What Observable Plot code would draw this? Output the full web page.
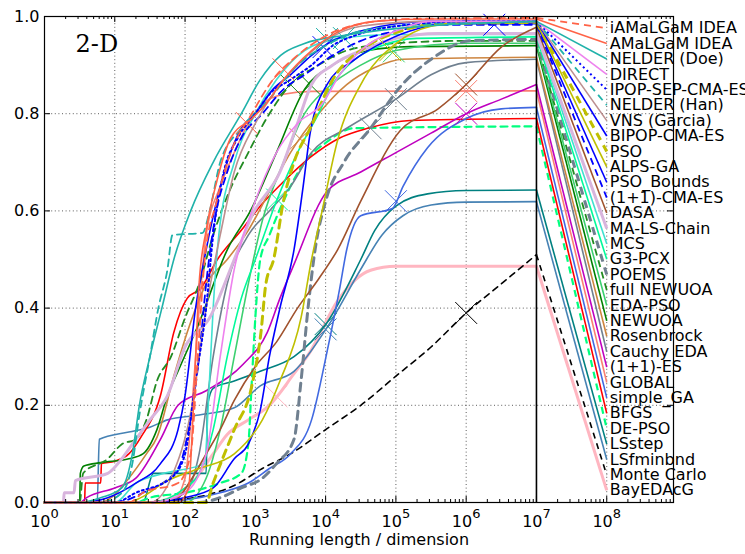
<!DOCTYPE html>
<html><head><meta charset="utf-8">
<script src="https://cdn.jsdelivr.net/npm/d3@7"></script>
<script src="https://cdn.jsdelivr.net/npm/@observablehq/plot@0.6"></script>
<style>body{margin:0;background:#fff;overflow:hidden}#chart{position:absolute;left:0;top:0}</style>
</head><body><div id="chart"></div>
<script>
// Algorithm names, in legend order (sorted by final proportion)
const names = ["iAMaLGaM IDEA","AMaLGaM IDEA","NELDER (Doe)","DIRECT","IPOP-SEP-CMA-ES","NELDER (Han)","VNS (Garcia)","BIPOP-CMA-ES","PSO","ALPS-GA","PSO_Bounds","(1+1)-CMA-ES","DASA","MA-LS-Chain","MCS","G3-PCX","POEMS","full NEWUOA","EDA-PSO","NEWUOA","Rosenbrock","Cauchy EDA","(1+1)-ES","GLOBAL","simple_GA","BFGS","DE-PSO","LSstep","LSfminbnd","Monte Carlo","BayEDAcG"];

// ECDF points per algorithm: [log10(running length / dimension), proportion]
const ecdfPoints = [
 [[0,0],[1.2,0],[1.4,0.02],[1.9,0.04],[2.08,0.1],[2.18,0.3],[2.28,0.5],[2.45,0.62],[2.65,0.72],[2.95,0.8],[3.25,0.87],[3.6,0.92],[4.0,0.96],[4.5,0.985],[5.2,0.995],[7,0.997]],
 [[0,0],[1.9,0],[2.05,0.03],[2.12,0.2],[2.2,0.45],[2.3,0.56],[2.45,0.66],[2.65,0.75],[2.95,0.79],[3.15,0.82],[3.4,0.87],[3.8,0.93],[4.2,0.97],[4.7,0.99],[5.5,0.995],[7,0.995]],
 [[0,0],[0.5,0],[0.8,0.01],[1.1,0.03],[1.25,0.1],[1.35,0.2],[1.5,0.3],[1.67,0.4],[1.84,0.5],[2.08,0.6],[2.4,0.7],[2.8,0.8],[3.07,0.87],[3.36,0.92],[3.69,0.944],[4.3,0.962],[5,0.975],[6,0.985],[7,0.99]],
 [[0,0],[1.5,0],[2.0,0.02],[2.3,0.1],[2.5,0.3],[2.7,0.48],[2.95,0.6],[3.3,0.72],[3.6,0.78],[3.95,0.82],[4.2,0.88],[4.5,0.93],[5.0,0.97],[5.5,0.99],[7,0.99]],
 [[0,0],[1.0,0],[1.3,0.02],[1.8,0.05],[2.0,0.1],[2.15,0.25],[2.3,0.4],[2.4,0.55],[2.55,0.68],[2.75,0.75],[3.0,0.8],[3.2,0.84],[3.5,0.87],[3.8,0.9],[4.1,0.94],[4.4,0.96],[5,0.98],[6,0.99],[7,0.99]],
 [[0,0],[0.8,0],[1.1,0.02],[1.25,0.08],[1.35,0.18],[1.5,0.3],[1.62,0.4],[1.75,0.48],[1.82,0.55],[2.25,0.555],[2.35,0.6],[2.5,0.7],[2.8,0.77],[3.2,0.83],[3.6,0.9],[4.0,0.94],[4.5,0.97],[5.5,0.985],[7,0.99]],
 [[0,0],[1.5,0],[1.8,0.05],[2.1,0.2],[2.3,0.4],[2.5,0.55],[2.7,0.68],[3.0,0.78],[3.3,0.85],[3.6,0.9],[4.0,0.95],[4.5,0.98],[5.5,0.99],[7,0.99]],
 [[0,0],[0.5,0],[0.9,0.01],[1.3,0.04],[1.65,0.08],[1.9,0.15],[2.0,0.22],[2.15,0.4],[2.3,0.52],[2.45,0.62],[2.6,0.7],[2.8,0.77],[3.0,0.8],[3.25,0.85],[3.5,0.88],[3.8,0.92],[4.1,0.95],[4.5,0.97],[5.0,0.985],[5.5,0.99],[7,0.99]],
 [[0,0],[2.3,0],[2.4,0.04],[2.7,0.15],[2.95,0.24],[3.08,0.35],[3.15,0.45],[3.26,0.5],[3.4,0.62],[3.55,0.7],[3.78,0.77],[4.1,0.87],[4.6,0.94],[5.07,0.97],[5.6,0.985],[7,0.988]],
 [[0,0],[1.2,0],[1.37,0.01],[1.75,0.045],[2.2,0.07],[2.7,0.1],[3.1,0.17],[3.35,0.25],[3.65,0.38],[3.8,0.5],[3.95,0.6],[4.17,0.745],[4.5,0.86],[5.0,0.944],[5.5,0.98],[6,0.988],[7,0.988]],
 [[0,0],[1.5,0],[2.0,0.01],[2.4,0.03],[2.7,0.09],[2.9,0.12],[3.07,0.19],[3.2,0.3],[3.35,0.4],[3.55,0.52],[3.68,0.65],[3.78,0.76],[4.02,0.86],[4.4,0.91],[4.73,0.94],[5.2,0.97],[5.8,0.985],[7,0.985]],
 [[0,0],[1.0,0],[1.4,0.02],[1.9,0.07],[2.05,0.15],[2.2,0.3],[2.3,0.45],[2.42,0.58],[2.6,0.68],[2.8,0.75],[3.1,0.8],[3.4,0.85],[3.7,0.88],[4.1,0.92],[4.5,0.95],[5.0,0.97],[5.6,0.983],[7,0.983]],
 [[0,0],[1.8,0],[2.1,0.05],[2.3,0.1],[2.5,0.15],[2.7,0.21],[3.0,0.28],[3.3,0.33],[3.6,0.4],[3.9,0.46],[4.17,0.52],[4.5,0.62],[5.06,0.765],[5.6,0.81],[6.0,0.86],[6.5,0.937],[7,0.978]],
 [[0,0],[0.27,0],[0.28,0.02],[0.42,0.02],[0.44,0.045],[0.9,0.06],[1.1,0.09],[1.25,0.12],[1.5,0.17],[1.75,0.22],[2.0,0.32],[2.35,0.38],[2.7,0.5],[2.95,0.59],[3.35,0.68],[3.6,0.78],[3.8,0.86],[4.1,0.9],[4.6,0.935],[5.0,0.955],[5.6,0.965],[7,0.965]],
 [[0,0],[1.0,0],[1.3,0.04],[1.7,0.06],[2.28,0.08],[2.33,0.2],[2.4,0.4],[2.48,0.55],[2.7,0.7],[3.0,0.8],[3.3,0.87],[3.7,0.93],[4.2,0.955],[5,0.963],[7,0.963]],
 [[0,0],[1.5,0],[2.0,0.03],[2.2,0.06],[2.4,0.15],[2.6,0.3],[2.8,0.42],[3.0,0.5],[3.3,0.62],[3.6,0.72],[3.9,0.8],[4.1,0.86],[4.4,0.91],[4.8,0.94],[5.3,0.955],[7,0.958]],
 [[0,0],[2.2,0],[2.5,0.01],[2.8,0.03],[3.1,0.05],[3.3,0.08],[3.55,0.13],[3.65,0.25],[3.75,0.4],[3.85,0.52],[4.0,0.62],[4.26,0.7],[4.64,0.77],[5.06,0.855],[5.53,0.915],[6.06,0.95],[7,0.953]],
 [[0,0],[0.5,0],[0.55,0.06],[0.9,0.09],[1.1,0.12],[1.3,0.13],[1.45,0.17],[1.6,0.25],[1.8,0.3],[2.0,0.38],[2.2,0.45],[2.4,0.55],[2.6,0.63],[2.9,0.72],[3.2,0.8],[3.5,0.86],[3.9,0.9],[4.3,0.93],[5,0.945],[6,0.95],[7,0.95]],
 [[0,0],[2.0,0],[2.3,0.05],[2.5,0.15],[2.7,0.3],[2.9,0.45],[3.1,0.58],[3.4,0.7],[3.7,0.8],[4.0,0.85],[4.5,0.9],[5.0,0.93],[6,0.945],[7,0.945]],
 [[0,0],[0.5,0],[0.51,0.06],[0.56,0.075],[0.8,0.082],[1.2,0.09],[1.4,0.1],[1.6,0.15],[1.75,0.22],[1.9,0.27],[2.2,0.37],[2.6,0.52],[2.93,0.6],[3.3,0.72],[3.7,0.85],[4.1,0.9],[4.6,0.93],[5.2,0.938],[7,0.94]],
 [[0,0],[0.8,0],[0.95,0.01],[1.2,0.05],[1.45,0.1],[1.6,0.134],[1.84,0.26],[2.03,0.35],[2.3,0.45],[2.6,0.5],[2.9,0.56],[3.2,0.64],[3.5,0.72],[3.9,0.8],[4.3,0.86],[4.7,0.895],[5.1,0.912],[7,0.916]],
 [[0,0],[1.6,0],[2.0,0.02],[2.2,0.1],[2.4,0.3],[2.6,0.45],[2.9,0.55],[3.2,0.6],[3.5,0.65],[3.8,0.72],[4.3,0.77],[5.0,0.83],[5.5,0.88],[6.0,0.905],[7,0.912]],
 [[0,0],[0.5,0],[0.6,0.01],[1.0,0.03],[1.3,0.05],[1.65,0.13],[1.9,0.2],[2.3,0.23],[2.83,0.285],[3.17,0.35],[3.35,0.42],[3.55,0.49],[4.02,0.64],[4.5,0.68],[5.0,0.72],[5.5,0.76],[6.0,0.8],[6.5,0.83],[7,0.86]],
 [[0,0],[1.8,0],[2.0,0.05],[2.1,0.2],[2.2,0.4],[2.3,0.55],[2.5,0.65],[2.7,0.72],[2.9,0.78],[3.1,0.82],[3.4,0.84],[3.8,0.846],[7,0.847]],
 [[0,0],[1.5,0],[2.0,0.005],[2.5,0.02],[2.9,0.04],[3.2,0.07],[3.5,0.1],[3.8,0.17],[4.02,0.31],[4.2,0.44],[4.3,0.52],[4.5,0.59],[4.95,0.605],[5.1,0.65],[5.45,0.73],[6.0,0.79],[6.5,0.81],[7,0.813]],
 [[0,0],[0.57,0],[0.58,0.04],[0.8,0.04],[0.81,0.08],[1.0,0.085],[1.2,0.1],[1.37,0.134],[1.65,0.22],[1.84,0.35],[2.03,0.42],[2.22,0.44],[2.46,0.5],[2.8,0.56],[3.07,0.61],[3.4,0.66],[3.78,0.71],[4.2,0.75],[4.6,0.77],[5.2,0.786],[7,0.79]],
 [[0,0],[1.3,0],[1.5,0.01],[2.0,0.02],[2.5,0.04],[2.8,0.06],[2.9,0.12],[2.95,0.25],[3.0,0.38],[3.07,0.5],[3.2,0.55],[3.4,0.62],[3.7,0.7],[4.0,0.74],[4.4,0.77],[7,0.774]],
 [[0,0],[1.4,0],[1.55,0.06],[2.3,0.06],[2.32,0.2],[2.4,0.235],[2.7,0.25],[3.07,0.27],[3.55,0.3],[4.02,0.37],[4.5,0.5],[4.7,0.56],[5.0,0.61],[5.45,0.635],[6,0.642],[7,0.643]],
 [[0,0],[0.75,0],[0.78,0.13],[1.2,0.145],[1.5,0.155],[1.75,0.17],[2.2,0.18],[2.7,0.195],[3.07,0.24],[3.55,0.27],[4.02,0.36],[4.5,0.48],[4.8,0.55],[5.1,0.59],[5.5,0.612],[6,0.618],[7,0.619]],
 [[0,0],[1.3,0],[1.8,0.005],[2.3,0.015],[2.7,0.035],[3.1,0.07],[3.5,0.1],[4.0,0.15],[4.5,0.2],[5.0,0.26],[5.5,0.32],[6.0,0.39],[6.5,0.45],[7,0.51]],
 [[0,0],[1.5,0],[1.8,0.01],[2.1,0.04],[2.4,0.1],[2.6,0.14],[2.9,0.17],[3.2,0.2],[3.55,0.265],[3.78,0.31],[4.17,0.415],[4.64,0.478],[5.0,0.486],[7,0.486]]
];

// log10 of the maximum budget (cross marker) per algorithm; null = no marker
const budgetExponent = [3.4,2.88,4.02,null,null,4.26,null,3.97,null,4.92,null,6.4,6.0,null,null,3.31,4.64,3.5,4.97,3.78,3.64,5.0,6.0,6.0,5.0,null,null,4.0,4.0,6.0,3.3];

// styles
const lineColors = ["#ff6347","#ff6347","#20b2aa","#ee82ee","#0000ff","#20b2aa","#bc8f8f","#0000ff","#bfbf00","#bfbf00","#0000ff","#0000ff","#a0522d","#d8b4dd","#40e0d0","#00fa9a","#708090","#228b22","#3cd070","#008000","#cd853f","#708090","#bf00bf","#fa8072","#4169e1","#ff0000","#00ff7f","#008080","#4682b4","#000000","#ffb6c1"];
const lineDashes = ["7,5",null,null,null,"2,3","7,5",null,null,"8,6",null,null,"7,5",null,null,null,null,"8,6","7,5",null,null,null,null,null,null,null,null,"7,5",null,null,"6,5",null];
const lineWidths = [1.8,1.6,1.6,1.6,2,1.8,1.6,1.6,3,1.6,1.6,1.8,1.6,3,1.6,1.6,3,1.8,1.6,1.6,1.6,1.6,1.6,1.6,1.6,1.6,2.2,1.6,1.6,1.6,3];

const yTicks = [0, 0.2, 0.4, 0.6, 0.8, 1.0];
const xDecades = [1,1e1,1e2,1e3,1e4,1e5,1e6,1e7,1e8];
const gridDecades = [1e1,1e2,1e3,1e4,1e5,1e6,1e8];
const xMax = 10 ** 8.95;
const xMinor = [];
for (let k = 0; k <= 8; k++) for (let m = 2; m <= 9; m++) { const v = m * 10 ** k; if (v < xMax) xMinor.push(v); }

const innerW = 745 - 44 - 72, innerH = 554 - 16 - 52;
const labelTop = 0.976, labelBottom = 0.025;
const labelY = i => labelTop - i * (labelTop - labelBottom) / (names.length - 1);
const interp = (pts, e) => {
  for (let k = 1; k < pts.length; k++) if (e <= pts[k][0]) {
    const [x0, y0] = pts[k - 1], [x1, y1] = pts[k];
    return y0 + (y1 - y0) * (e - x0) / ((x1 - x0) || 1);
  }
  return pts[pts.length - 1][1];
};
const sup = {"0":"⁰","1":"¹","2":"²","3":"³","4":"⁴","5":"⁵","6":"⁶","7":"⁷","8":"⁸","9":"⁹"};

const marks = [];
const dotted = {stroke: "#333", strokeWidth: 0.8, strokeDasharray: "1,2.6"};
marks.push(Plot.ruleX(gridDecades, dotted));
marks.push(Plot.ruleY([0.2,0.4,0.6,0.8], dotted));

const order = d3.range(names.length).reverse();
for (const i of order) {
  const pts = ecdfPoints[i];
  const rows = pts.map(([e, f]) => ({x: 10 ** e, y: f}));
  const style = {stroke: lineColors[i], strokeWidth: lineWidths[i], strokeDasharray: lineDashes[i] || undefined};
  marks.push(Plot.line(rows, {x: "x", y: "y", curve: "monotone-x", ...style}));
  const last = pts[pts.length - 1];
  marks.push(Plot.link([i], {x1: () => 10 ** last[0], y1: () => last[1], x2: () => 1e8, y2: () => labelY(i), ...style}));
  if (budgetExponent[i] != null) {
    marks.push(Plot.dot([i], {x: () => 10 ** budgetExponent[i], y: () => interp(pts, budgetExponent[i]), symbol: "times", r: 10, stroke: lineColors[i], strokeWidth: 1}));
  }
}
marks.push(Plot.ruleX([1e7], {stroke: "#000", strokeWidth: 1.6}));
marks.push(Plot.frame({stroke: "#000", strokeWidth: 1.2}));
// inward ticks
marks.push(Plot.tickX(xDecades, {x: d => d, insetTop: innerH - 6, stroke: "#000"}));
marks.push(Plot.tickX(xMinor, {x: d => d, insetTop: innerH - 3, stroke: "#000"}));
marks.push(Plot.tickX(xDecades, {x: d => d, insetBottom: innerH - 6, stroke: "#000"}));
marks.push(Plot.tickX(xMinor, {x: d => d, insetBottom: innerH - 3, stroke: "#000"}));
marks.push(Plot.tickY(yTicks, {y: d => d, insetRight: innerW - 6, stroke: "#000"}));
marks.push(Plot.tickY(yTicks, {y: d => d, insetLeft: innerW - 6, stroke: "#000"}));
marks.push(Plot.axisX(xDecades, {tickSize: 0, tickPadding: 13, fontSize: 16, tickFormat: d => "10" + sup[String(Math.round(Math.log10(d)))], label: null}));
marks.push(Plot.axisY(yTicks, {tickSize: 0, tickPadding: 5, fontSize: 16, tickFormat: d3.format(".1f"), label: null}));
marks.push(Plot.text(["Running length / dimension"], {frameAnchor: "bottom", dy: 42, fontSize: 16}));
marks.push(Plot.text(["2-D"], {frameAnchor: "top-left", dx: 31, dy: 18, fontSize: 24, fontFamily: "DejaVu Serif"}));
marks.push(Plot.text(names, {x: () => 1e8, y: (d, i) => labelY(i), dx: 3, textAnchor: "start", fontSize: 16, fill: "#000"}));

const svg = Plot.plot({
  width: 745, height: 554,
  marginLeft: 44, marginRight: 72, marginTop: 16, marginBottom: 52,
  x: {type: "log", domain: [1, xMax]},
  y: {domain: [0, 1]},
  style: {fontFamily: "DejaVu Sans, sans-serif", fontSize: "16px", background: "#fff", overflow: "hidden"},
  marks
});
// superscript exponents in x tick labels
d3.select(svg).selectAll("text").each(function() {
  const t = this.textContent;
  const m = /^10([⁰¹²³⁴⁵⁶⁷⁸⁹])$/.exec(t);
  if (m) {
    const digit = Object.keys(sup).find(k => sup[k] === m[1]);
    const el = d3.select(this);
    el.text("10");
    el.append("tspan").attr("dy", "-0.72em").attr("font-size", "13px").text(digit);
  }
});
document.getElementById("chart").appendChild(svg);
</script>
</body></html>
